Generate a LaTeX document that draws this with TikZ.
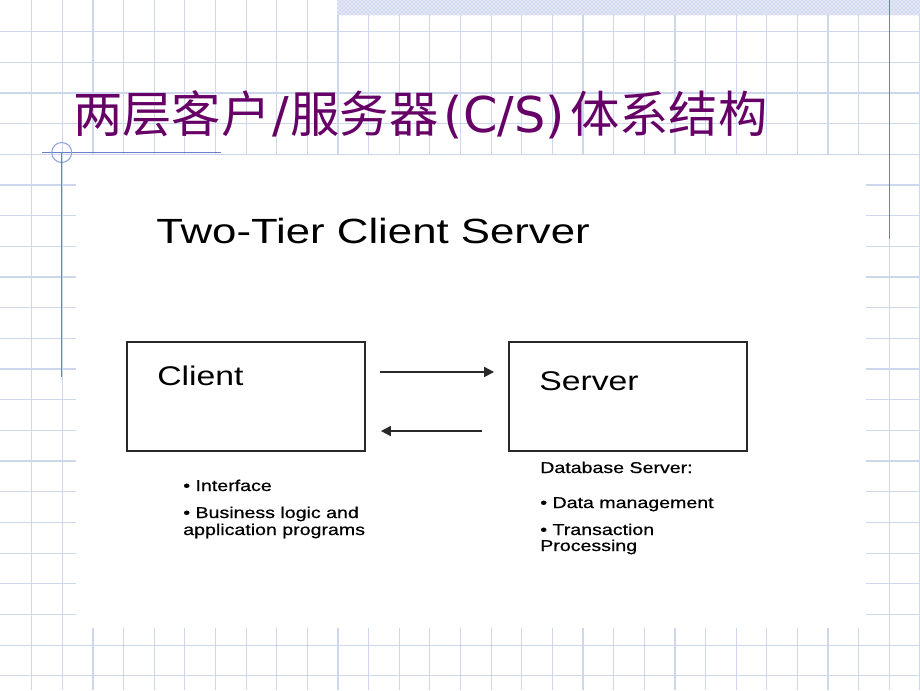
\documentclass[tikz,border=0pt]{standalone}
\usepackage{xcolor}
\usepackage{tikz}
\usepackage{fontspec}
\usetikzlibrary{patterns}
\usetikzlibrary{arrows.meta}
\newfontfamily\cjkfont{Noto Sans CJK SC}
\newfontfamily\verdfont{DejaVu Sans}
\newfontfamily\figfont[FakeStretch=1.25]{Liberation Sans}
\newfontfamily\notefont[FakeStretch=1.25,FakeBold=0.7]{Liberation Sans}
\definecolor{gridblue}{RGB}{204,214,236}
\definecolor{bandblue}{RGB}{224,230,244}
\definecolor{lineblue}{RGB}{104,128,200}
\definecolor{ringblue}{RGB}{140,162,222}
\definecolor{titlepurple}{RGB}{102,0,102}
\definecolor{boxgray}{RGB}{40,40,40}

\begin{document}
\begin{tikzpicture}[x=0.75pt,y=0.75pt,yscale=-1,xscale=1,
  gridline/.style={draw=gridblue,line width=0.9pt},
  tierbox/.style={draw=boxgray,line width=1.4pt,minimum width=178.5pt,minimum height=81.75pt,inner sep=0pt},
  flow/.style={draw=boxgray,line width=1.4pt,-{Triangle[length=7.5pt,width=7.5pt]}},
  bigtext/.style={anchor=base west,inner sep=0pt,font=\figfont\fontsize{20.25}{24}\selectfont},
  note/.style={anchor=base west,inner sep=0pt,font=\notefont\fontsize{11.75}{12.75}\selectfont}]
\useasboundingbox (0,0) rectangle (920,690);

%Shape: Grid background
\foreach \k in {1,...,30} {\draw[gridline] (1.07+30.63*\k,0) -- (1.07+30.63*\k,690);}
\foreach \k in {1,...,22} {\draw[gridline] (0,1.03+30.67*\k) -- (920,1.03+30.67*\k);}
%Shape: Picture area
\fill[white] (76,155) rectangle (866,628);
%Shape: Top band
\fill[bandblue] (337,0) rectangle (920,15);
\fill[pattern=crosshatch dots,pattern color=gridblue!85!blue] (337,0) rectangle (920,15);

%Shape: Rule lines and ring
\draw[lineblue,line width=1pt] (42,152.7) -- (221,152.7);
\draw[ringblue,line width=0.8pt] (61.7,152.5) circle[radius=10];
\draw[lineblue,line width=1pt] (61.7,152.5) -- (61.7,377);
\draw[lineblue,line width=1pt] (889.3,0) -- (889.3,239);

% Text Node
\node[anchor=base west,inner sep=0pt,text=titlepurple,font=\cjkfont\fontsize{37}{40}\selectfont] (title) at (73,132) {两层客户\makebox[15pt]{\verdfont /}服务器\makebox[98.6pt]{\verdfont (C/S)}体系结构};
% Text Node
\node[anchor=base west,inner sep=0pt,font=\figfont\fontsize{26.25}{30}\selectfont] (heading) at (156,243) {Two-Tier Client Server};

%Shape: Rectangle
\node[tierbox] (client) at (246,396.5) {};
\node[tierbox] (server) at (628,396.5) {};
% Text Node
\node[bigtext] (clientname) at (157,385) {Client};
\node[bigtext] (servername) at (539,390) {Server};

%Shape: Arrows
\draw[flow,shorten <=10.5pt,shorten >=10.5pt] ([yshift=-18.4pt]client.east) -- ([yshift=-18.4pt]server.west);
\draw[flow,shorten <=19.5pt,shorten >=11.25pt] ([yshift=25.9pt]server.west) -- ([yshift=25.9pt]client.east);

% Text Node
\node[note] (iface) at (183,491) {\textbullet{} Interface};
\node[note] (logic) at (183,518) {\textbullet{} Business logic and};
\node[note] (logicb) at (183,535) {application programs};
\node[note] (dbserver) at (540,473) {Database Server:};
\node[note] (datamgmt) at (540,508) {\textbullet{} Data management};
\node[note] (trans) at (540,535) {\textbullet{} Transaction};
\node[note] (transb) at (540,551) {Processing};

\end{tikzpicture}
\end{document}
